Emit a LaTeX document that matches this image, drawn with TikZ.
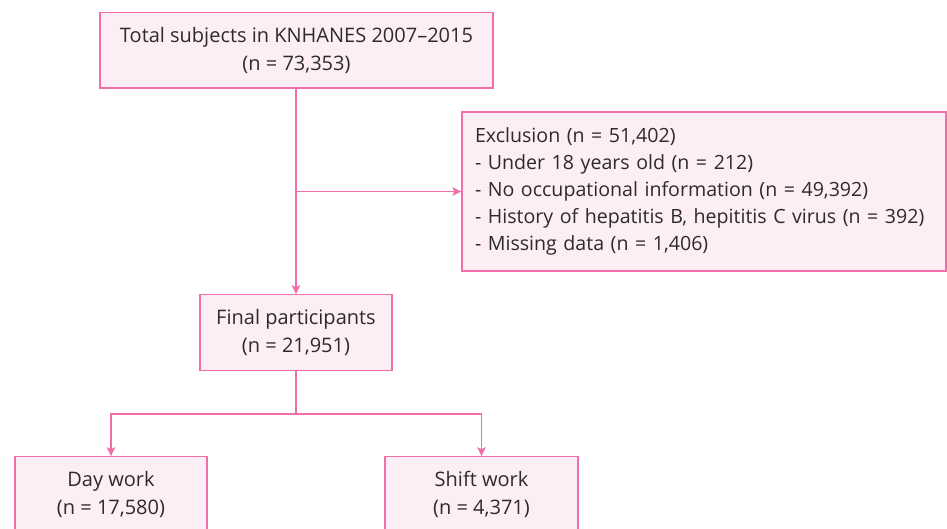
\documentclass[tikz,border=0pt]{standalone}
\usepackage{fontspec}
\setmainfont{Open Sans}
\usetikzlibrary{arrows.meta}
\definecolor{pinkline}{RGB}{240,110,170}
\definecolor{pinkfill}{RGB}{253,238,245}
\definecolor{txtgray}{RGB}{45,42,44}
\begin{document}
\begin{tikzpicture}[x=1pt,y=1pt,
  box/.style={draw=pinkline,fill=pinkfill,line width=1.3pt,text=txtgray,
    align=center,minimum height=75.5pt,inner sep=0pt,
    font=\fontsize{20}{28.5}\selectfont},
  link/.style={draw=pinkline,line width=1.3pt},
  arr/.style={link,-{Stealth[length=9pt,width=8.5pt,inset=2pt]}}]
\useasboundingbox (0,0) rectangle (947,-528);

\node[box,minimum width=393pt] (total) at (296.5,-50.3)
  {Total subjects in KNHANES 2007--2015\\(n = 73,353)};
\node[box,minimum height=159pt,text width=458pt,inner xsep=13pt,align=left,
  font=\fontsize{19.6}{27}\selectfont] (excl) at (704,-191.5)
  {Exclusion (n = 51,402)\\
   - Under 18 years old (n = 212)\\
   - No occupational information (n = 49,392)\\
   - History of hepatitis B, hepititis C virus (n = 392)\\
   - Missing data (n = 1,406)};
\node[box,minimum width=192pt] (final) at (296,-332.5)
  {Final participants\\(n = 21,951)};
\node[box,minimum width=192pt] (day) at (111,-494.5)
  {Day work\\(n = 17,580)};
\node[box,minimum width=193pt] (shift) at (481.5,-494.5)
  {Shift work\\(n = 4,371)};

\draw[arr] (final.north |- total.south) -- (final.north);
\coordinate (split) at (final.north |- excl.west);
\draw[arr] (split) -- (excl.west);

\draw[link] (final.south) -- ++(0,-43) coordinate (fork);
\draw[arr] (fork) -| (day.north);
\draw[arr] (fork) -| (shift.north);
\end{tikzpicture}
\end{document}
